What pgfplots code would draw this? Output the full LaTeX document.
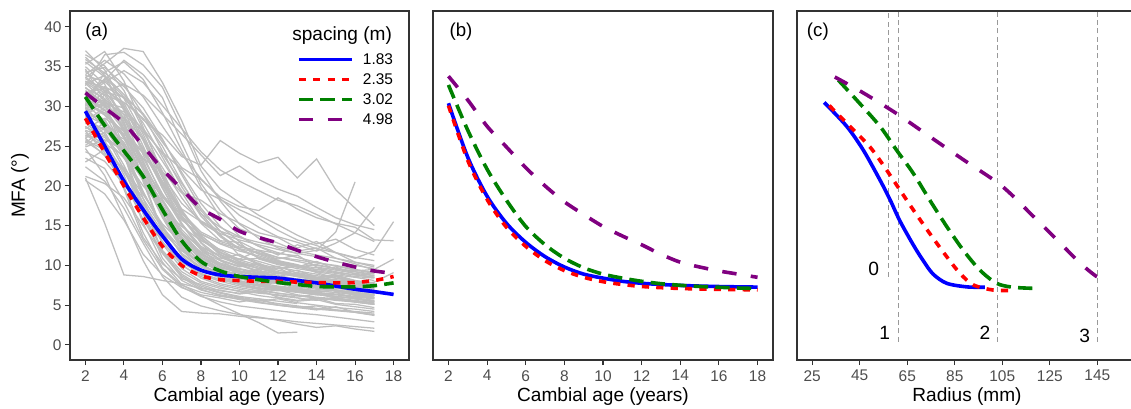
\documentclass[border=0pt]{standalone}
\usepackage{pgfplots}
\usepackage{pgfplotstable}
\pgfplotsset{compat=1.18}
\usepackage{fontspec}
\setmainfont{Liberation Sans}

\definecolor{cBlue}{HTML}{0000FF}
\definecolor{cRed}{HTML}{FF0000}
\definecolor{cGreen}{HTML}{008000}
\definecolor{cPurple}{HTML}{800080}
\definecolor{cGreyLine}{HTML}{BEBEBE}
\definecolor{axisgrey}{HTML}{333333}
\definecolor{labelgrey}{HTML}{4D4D4D}
\definecolor{vgrey}{HTML}{999999}

% individual trees (rows), cambial age 2..18 (columns)
\pgfplotstableread[header=true]{
id 2 3 4 5 6 7 8 9 10 11 12 13 14 15 16 17 18
s1 37.0 34.6 30.1 25.0 19.8 15.2 12.4 11.1 10.3 9.6 9.9 9.0 8.5 8.8 8.1 7.6 nan
s2 35.3 36.9 33.2 27.4 21.5 16.1 13.2 11.6 10.8 11.9 10.6 9.8 10.5 9.5 9.2 8.7 nan
s3 33.6 35.4 37.3 36.9 33.0 28.2 22.5 19.6 17.9 16.3 15.1 13.8 12.7 13.3 12.0 11.3 nan
s4 31.4 33.3 35.8 34.0 31.1 25.4 20.3 16.9 14.6 13.7 12.8 11.8 12.2 10.9 10.2 9.4 nan
s5 34.5 32.0 28.5 23.1 17.0 12.6 10.4 9.3 8.7 8.0 7.8 7.9 7.1 6.8 6.4 6.0 nan
s6 29.6 30.9 27.1 20.5 14.1 10.7 8.8 8.0 7.4 7.0 7.3 6.7 6.3 6.6 5.8 5.5 nan
s7 26.4 25.0 19.6 13.5 10.2 8.3 7.6 6.8 6.5 6.9 6.0 5.6 5.9 5.2 5.1 4.7 nan
s8 21.0 15.3 8.8 8.6 8.1 7.7 7.1 6.9 6.4 6.7 6.2 5.9 5.6 6.0 5.4 5.1 nan
s9 20.7 19.0 15.7 11.4 8.8 7.2 6.3 5.9 5.4 5.8 5.0 4.7 4.4 4.8 4.1 3.8 nan
s10 30.2 32.5 31.1 28.3 26.4 23.7 22.6 25.7 24.1 22.9 23.6 21.0 23.4 19.5 17.2 15.0 nan
s11 32.0 30.5 29.8 27.0 24.2 22.1 19.5 18.3 17.0 15.9 14.4 13.2 12.5 11.6 10.9 11.8 15.5
s12 28.3 27.1 25.9 23.4 21.8 19.1 18.2 16.5 15.3 14.1 13.5 12.2 13.0 11.6 10.4 9.8 nan
s13 25.6 24.0 22.3 18.9 15.2 12.8 11.0 10.1 9.5 9.0 9.7 8.6 8.1 7.9 7.3 7.0 nan
s14 27.8 29.6 26.2 21.0 16.4 13.1 11.7 10.6 9.8 10.3 9.1 8.7 8.2 8.6 7.8 7.4 nan
s15 33.0 31.4 27.7 22.8 18.3 14.5 12.0 10.8 11.4 10.2 9.6 9.9 9.1 8.4 8.0 7.7 nan
s16 24.3 23.1 20.2 16.7 12.9 10.4 8.9 8.2 7.6 7.1 6.8 7.2 6.5 6.1 5.8 5.4 nan
s17 30.7 29.0 24.8 19.3 14.6 11.5 9.8 8.7 8.1 7.5 7.9 7.0 6.6 6.9 6.2 5.9 nan
s18 35.9 34.2 32.5 29.8 25.9 21.4 17.2 14.3 12.5 11.4 10.6 10.1 9.4 9.8 8.9 8.5 nan
s19 27.0 26.1 23.5 20.0 17.2 14.9 13.1 12.0 11.2 10.5 9.8 9.3 8.9 8.4 8.0 7.6 nan
s20 23.5 22.2 18.0 13.2 9.5 7.3 6.1 5.4 4.9 4.6 4.3 4.0 3.8 3.5 3.2 2.9 nan
s21 32.4 30.2 25.1 18.4 12.7 9.6 8.0 7.3 6.7 6.2 5.9 5.5 5.7 5.1 4.8 4.5 nan
s22 29.1 28.4 24.0 17.5 11.8 8.7 7.2 6.5 6.0 5.6 5.2 4.9 4.6 4.4 4.1 3.7 nan
s23 26.9 24.2 19.9 14.1 9.7 7.5 6.6 6.1 5.8 5.5 5.8 5.3 5.0 4.7 4.5 4.2 nan
s24 31.2 33.5 29.7 23.9 18.6 15.7 13.9 12.8 12.1 11.6 11.0 10.7 10.3 10.0 9.5 9.1 nan
s25 34.0 35.8 34.1 31.2 27.5 24.0 20.9 18.4 16.3 14.8 13.6 12.9 12.1 11.6 11.0 10.6 nan
s26 28.7 26.5 22.1 16.5 11.9 9.2 7.8 7.1 6.8 6.5 6.3 6.0 6.4 5.9 5.6 5.3 nan
s27 25.1 26.8 22.6 17.8 13.6 10.9 9.3 8.5 7.9 7.6 7.3 7.0 6.7 6.9 6.4 6.2 nan
s28 33.2 31.7 27.9 20.8 14.3 10.1 8.4 7.5 7.0 6.6 6.9 6.3 6.0 5.8 5.5 5.2 nan
s29 30.4 29.2 26.3 22.4 18.9 16.2 14.0 12.7 11.8 11.2 10.5 10.0 9.7 9.2 8.8 8.5 nan
s30 24.7 21.3 16.0 10.6 6.3 4.2 4.0 3.9 3.6 3.4 3.2 2.9 2.7 2.5 2.3 2.1 nan
s31 22.4 20.6 17.2 12.8 8.6 6.0 4.9 4.3 3.8 3.5 3.1 2.6 2.2 2.4 2.0 1.7 nan
s32 28.0 25.7 21.4 15.3 10.4 7.6 6.2 5.0 3.9 2.8 1.5 1.6 nan nan nan nan nan
s33 29.9 27.3 23.6 19.1 15.0 11.3 9.0 8.2 7.8 7.4 7.0 8.1 nan nan nan nan nan
s34 36.2 33.9 29.5 24.3 20.1 16.6 14.2 13.0 12.3 11.9 11.5 11.2 nan nan nan nan nan
s35 26.0 23.8 20.5 15.8 11.6 8.9 7.4 6.6 6.1 5.8 5.5 5.2 nan nan nan nan nan
s36 31.9 30.1 27.0 22.0 17.5 14.1 12.2 11.3 10.7 10.9 10.2 9.8 10.1 9.6 9.3 9.5 10.8
s37 27.5 25.4 21.8 17.9 14.2 11.8 10.5 9.7 9.2 8.8 8.5 8.3 8.0 7.8 7.5 7.9 9.1
s38 32.8 33.9 31.5 28.9 25.5 22.3 20.8 18.6 17.4 16.9 18.5 17.1 16.0 15.3 14.8 13.2 13.1
s39 29.3 30.6 29.0 26.8 23.1 19.4 16.5 14.8 13.6 12.4 11.3 12.6 11.8 12.8 14.1 17.3 nan
s40 26.2 28.0 25.5 21.2 17.0 13.5 11.4 10.3 9.6 9.1 8.6 8.2 7.9 7.5 7.2 6.9 nan
s41 35.0 32.8 28.1 22.2 16.3 12.2 10.0 9.0 8.4 9.0 8.3 7.8 7.4 7.6 7.1 6.7 nan
s42 23.0 24.6 21.9 17.4 13.0 10.0 8.6 7.7 7.2 6.8 6.5 6.2 5.9 5.7 5.4 5.1 nan
s43 30.0 34.3 35.6 33.4 29.2 24.5 19.8 16.1 13.7 12.4 11.6 11.0 10.4 9.9 9.4 9.0 nan
s44 32.6 36.5 36.8 35.2 32.4 27.3 21.9 18.1 15.2 13.4 12.2 11.5 11.1 10.5 10.0 9.6 nan
s45 25.4 27.3 24.1 19.2 14.8 12.0 10.1 9.0 8.3 7.8 7.4 7.1 6.8 7.3 6.6 6.3 nan
s46 34.7 30.6 24.0 16.5 10.9 8.1 6.9 6.3 5.9 5.4 5.0 4.8 4.5 4.3 4.1 3.8 nan
s47 28.6 31.5 30.4 26.1 21.3 17.8 15.6 14.3 13.5 12.9 12.4 11.8 11.3 10.9 10.4 10.0 nan
s48 21.2 20.3 18.5 15.0 11.5 8.5 7.0 6.2 5.7 5.3 5.0 4.7 4.9 4.4 4.2 4.0 nan
s49 31.0 29.5 26.0 21.0 16.0 12.0 9.5 8.4 7.6 7.0 6.5 6.2 5.9 5.6 5.4 5.1 nan
s50 33.5 32.0 30.5 28.5 25.0 20.5 16.5 13.8 12.1 11.0 10.3 9.8 9.3 9.0 8.6 8.4 nan
s51 29.0 30.2 28.5 24.6 20.3 17.1 15.5 14.0 13.2 12.6 12.0 11.5 11.9 14.2 20.5 nan nan
s52 30.5 28.9 26.8 23.5 19.0 15.1 12.2 10.7 9.9 10.1 9.0 8.6 8.3 8.0 7.6 7.2 nan
s53 27.2 28.5 27.0 24.2 20.1 16.0 12.9 11.0 10.1 9.3 8.9 9.4 8.5 8.1 7.8 7.4 nan
s54 33.9 33.1 31.0 26.5 21.2 16.8 13.5 11.4 10.2 9.6 9.1 8.8 8.4 8.7 8.0 7.7 nan
s55 29.8 27.4 24.9 21.6 18.0 14.2 11.5 9.9 9.0 8.4 7.9 8.3 7.2 6.9 6.6 6.3 nan
s56 31.7 32.3 30.0 25.7 20.4 15.2 11.9 10.2 9.3 8.9 8.6 8.2 7.9 7.6 7.3 7.0 nan
s57 26.6 25.3 23.8 21.5 18.7 15.9 13.4 11.6 10.5 9.8 9.2 8.8 8.4 8.0 7.8 7.5 nan
s58 35.6 33.7 31.2 27.9 23.6 19.2 15.4 13.9 11.2 10.1 9.4 8.9 8.5 8.2 7.9 7.5 nan
s59 28.9 27.7 25.0 20.9 16.3 12.4 10.0 8.8 8.0 7.4 7.0 6.7 6.4 6.1 5.9 5.6 nan
s60 32.3 31.0 28.4 24.7 20.5 16.6 13.7 11.9 10.7 10.0 8.6 9.1 8.7 8.4 8.1 7.8 nan
s61 24.9 25.8 24.5 21.3 17.2 13.6 11.0 9.5 8.7 8.1 7.7 7.3 7.0 6.8 6.5 6.2 nan
s62 30.8 30.0 27.6 23.1 18.2 14.0 11.1 9.6 8.7 8.2 7.7 7.4 7.9 6.7 6.5 6.2 nan
s63 34.3 34.9 32.7 29.0 24.4 19.9 16.2 13.6 12.0 11.0 10.4 9.9 9.5 9.1 8.8 8.5 nan
s64 28.1 29.9 28.6 25.9 22.3 18.5 15.3 13.1 12.9 10.8 10.1 9.6 9.2 8.8 8.5 8.1 nan
s65 25.8 24.5 22.0 18.4 14.6 11.5 9.5 8.4 7.7 7.2 6.9 6.6 6.3 6.1 5.8 5.5 nan
s66 33.1 32.4 29.9 25.8 21.0 16.3 12.8 10.6 9.3 8.5 8.0 7.6 7.3 7.8 6.8 6.5 nan
s67 30.0 31.8 31.2 29.1 25.8 21.7 17.8 14.9 13.0 11.8 11.0 10.5 10.0 9.6 9.2 8.9 nan
s68 27.4 26.3 24.2 20.7 16.8 13.3 10.8 9.3 8.4 7.9 8.4 7.1 6.8 6.6 6.3 6.0 nan
s69 32.9 30.7 27.3 22.5 17.4 13.0 10.2 8.8 8.0 7.5 7.1 6.8 6.5 6.3 6.0 5.8 nan
s70 29.4 30.4 29.3 27.2 24.0 20.3 16.9 14.3 12.6 11.5 10.8 11.3 9.8 9.4 9.0 8.7 nan
s71 36.5 35.1 32.0 27.1 21.8 17.0 13.5 11.3 10.0 9.2 8.7 8.3 8.0 7.7 7.4 7.1 nan
s72 31.1 29.6 26.4 22.0 17.6 13.9 11.3 9.8 9.0 9.5 8.1 7.7 7.4 7.1 6.9 6.6 nan
s73 28.4 27.0 24.6 21.1 17.4 14.0 11.6 10.1 9.2 8.6 8.2 7.8 7.5 7.3 7.0 6.7 nan
s74 33.7 31.9 28.9 24.6 19.7 15.3 12.1 10.1 9.0 8.3 7.8 7.4 8.0 6.9 6.6 6.3 nan
s75 26.0 27.5 26.6 24.1 20.6 16.9 13.8 11.7 10.4 9.6 9.0 8.6 8.2 7.9 7.6 7.3 nan
s76 30.3 28.2 25.3 21.4 17.1 13.3 10.6 9.1 9.1 7.6 7.2 6.9 6.6 6.4 6.1 5.9 nan
s77 31.5 33.0 34.5 33.0 30.1 27.2 24.3 22.0 20.6 19.4 18.2 17.5 16.4 15.2 14.1 13.0 nan
s78 29.7 31.9 32.8 31.4 29.0 26.5 23.9 21.3 22.5 20.8 19.6 18.7 17.3 16.0 15.1 14.5 nan
}\greyraw
\pgfplotstabletranspose[colnames from=id, input colnames to=age]{\greyT}{\greyraw}

% panel (a): fitted curves, cambial age 2..18
\pgfplotstableread{
age b183 r235 g302 p498
2  29.4 28.5 31.2 31.7
3  25.0 24.2 27.6 29.8
4  20.6 20.0 24.4 27.9
5  17.0 16.0 21.2 25.0
6  13.7 12.4 17.0 22.1
7  10.8 10.0 13.1 19.6
8  9.4  8.7  10.5 17.2
9  8.8  8.2  9.3  15.8
10 8.6  8.1  8.6  14.3
11 8.5  8.0  8.2  13.5
12 8.4  8.0  7.85 12.8
13 8.1  7.9  7.6  11.9
14 7.8  7.85 7.35 11.1
15 7.4  7.8  7.3  10.4
16 7.0  7.85 7.3  9.8
17 6.7  8.1  7.45 9.3
18 6.35 8.6  7.8  9.0
}\fitA

% panel (b): model curves, cambial age 2..18
\pgfplotstableread{
age b183 r235 g302 p498
2  30.4 30.1 32.7 33.8
3  23.6 23.2 27.0 30.8
4  18.7 18.3 22.1 27.5
5  15.3 14.8 18.2 24.9
6  12.9 12.4 14.9 22.3
7  11.1 10.6 12.6 20.0
8  9.8  9.35 10.9 18.0
9  8.9  8.5  9.7  16.4
10 8.4  7.95 8.9  14.9
11 8.0  7.6  8.4  13.7
12 7.75 7.35 8.0  12.6
13 7.6  7.2  7.7  11.4
14 7.48 7.1  7.5  10.4
15 7.4  7.03 7.35 9.8
16 7.34 6.98 7.25 9.3
17 7.3  6.95 7.15 8.9
18 7.27 6.93 7.1  8.5
}\fitB

\pgfplotsset{
  panel/.style={
    scale only axis, height=261.75pt,
    ymin=-1.9, ymax=42,
    axis line style={draw=axisgrey, line width=0.9pt},
    tick style={draw=axisgrey, line width=0.8pt},
    tick align=outside, major tick length=3.75pt,
    xtick pos=bottom, ytick pos=left,
    /pgf/number format/assume math mode=true,
    tick label style={font=\fontsize{11.6}{13}\selectfont, text=labelgrey, inner sep=0pt},
    xticklabel style={anchor=north, yshift=-3.75pt},
    yticklabel style={anchor=east, xshift=-2.45pt},
    label style={font=\fontsize{14.3}{17}\selectfont, text=black},
    xlabel style={at={(axis description cs:0.5,-0.106)}, anchor=center},
    minor tick num=0,
  },
  gl/.style={color=cGreyLine, line width=0.95pt, forget plot},
  sB/.style={color=cBlue, line width=2.7pt, line cap=butt, smooth, tension=0.5},
  sR/.style={color=cRed, line width=2.7pt, line cap=butt, dash pattern=on 5.4pt off 5.4pt, smooth, tension=0.5},
  sG/.style={color=cGreen, line width=2.7pt, line cap=butt, dash pattern=on 10.8pt off 5.4pt, smooth, tension=0.5},
  sP/.style={color=cPurple, line width=2.7pt, line cap=butt, dash pattern=on 10.8pt off 10.8pt, smooth, tension=0.5},
  vl/.style={color=vgrey, line width=0.8pt, dash pattern=on 3.75pt off 2.5pt, forget plot},
}
\tikzset{plab/.style={font=\fontsize{14}{17}\selectfont, inner sep=0pt, anchor=west}}

\begin{document}
\begin{tikzpicture}
\useasboundingbox (0,0) rectangle (848.25pt,306pt);

% ---------------- panel (a)
\begin{axis}[panel, at={(52.5pt,36pt)}, anchor=south west, width=254.25pt,
  xmin=1.2, xmax=18.8, xtick={2,4,...,18},
  ytick={0,5,...,40},
  xlabel={Cambial age (years)}, ylabel={MFA (°)},
  ylabel style={at={(axis description cs:-0.1475,0.5)}, anchor=center},
  legend style={at={(axis description cs:0.6696,0.8774)}, anchor=north west,
    draw=none, fill=none, inner sep=0pt, outer sep=0pt, row sep=6.7pt,
    font=\fontsize{11.6}{13}\selectfont,
    nodes={inner sep=0pt, text height=8.3pt, text depth=0pt},
    /tikz/every odd column/.append style={column sep=6.75pt}},
  legend cell align=left,
  legend image code/.code={\draw[#1] (0pt,0pt) -- (40pt,0pt);},
]
\pgfplotsinvokeforeach{1,...,78}{\addplot[gl] table[x=age, y=s#1]{\greyT};}
\addplot[sB] table[x=age, y=b183]{\fitA}; \addlegendentry{1.83}
\addplot[sR] table[x=age, y=r235]{\fitA}; \addlegendentry{2.35}
\addplot[sG] table[x=age, y=g302]{\fitA}; \addlegendentry{3.02}
\addplot[sP] table[x=age, y=p498]{\fitA}; \addlegendentry{4.98}
\node[plab] at (axis description cs:0.0442,0.9398) {(a)};
\node[anchor=west, inner sep=0pt, font=\fontsize{14.3}{17}\selectfont] at (axis description cs:0.655,0.931) {spacing (m)};
\end{axis}

% ---------------- panel (b)
\begin{axis}[panel, at={(324.75pt,36pt)}, anchor=south west, width=255pt,
  xmin=1.2, xmax=18.8, xtick={2,4,...,18}, ytick=\empty,
  xlabel={Cambial age (years)},
]
\addplot[sB] table[x=age, y=b183]{\fitB};
\addplot[sR] table[x=age, y=r235]{\fitB};
\addplot[sG] table[x=age, y=g302]{\fitB};
\addplot[sP] table[x=age, y=p498]{\fitB};
\node[plab] at (axis description cs:0.048,0.9398) {(b)};
\end{axis}

% ---------------- panel (c)
\begin{axis}[panel, at={(597.75pt,36pt)}, anchor=south west, width=255pt,
  xmin=18.6, xmax=161.7, xtick={25,45,...,145}, ytick=\empty,
  xlabel={Radius (mm)},
]
\addplot[vl] coordinates {(57.2,8.6) (57.2,42)};
\addplot[vl] coordinates {(61.2,0.4) (61.2,42)};
\addplot[vl] coordinates {(103.1,0.4) (103.1,42)};
\addplot[vl] coordinates {(145.0,0.4) (145.0,42)};
\addplot[sB] coordinates {(30.05,30.5) (39.5,27.5) (46.5,24.5) (53.5,20.75) (57.7,18.3) (61.9,15.6) (67.5,12.6) (71.7,10.6) (75.9,8.9) (81.6,7.75) (90,7.3) (97.7,7.25)};
\addplot[sR] coordinates {(32.2,30.1) (39.5,27.9) (49.3,24.9) (56.3,22.0) (61.9,19.5) (67.5,17.0) (74.5,14.0) (81.6,11.1) (87.2,9.0) (92.8,7.55) (101.2,6.9) (110.3,6.85)};
\addplot[sG] coordinates {(36,33.3) (43.7,30.8) (53.5,27.5) (60.5,24.5) (67.5,21.6) (74.5,18.2) (81.6,14.9) (88.6,11.9) (95.6,9.4) (102.6,7.75) (109.6,7.25) (119.7,7.1)};
\addplot[sP] coordinates {(34.5,33.7) (46.5,31.7) (60.5,29.1) (74.5,26.2) (88.6,23.3) (102.6,20.5) (109.6,18.7) (116.6,16.6) (123.7,14.5) (130.7,12.4) (137.7,10.3) (144.7,8.6) (149.6,8.0)};
\node[font=\fontsize{14.4}{17}\selectfont, inner sep=0pt] at (axis cs:50.9,9.55) {0};
\node[font=\fontsize{14.4}{17}\selectfont, inner sep=0pt] at (axis cs:55.5,1.56) {1};
\node[font=\fontsize{14.4}{17}\selectfont, inner sep=0pt] at (axis cs:97.7,1.56) {2};
\node[font=\fontsize{14.4}{17}\selectfont, inner sep=0pt] at (axis cs:139.7,1.14) {3};
\node[plab] at (axis description cs:0.0285,0.9398) {(c)};
\end{axis}
\end{tikzpicture}
\end{document}
